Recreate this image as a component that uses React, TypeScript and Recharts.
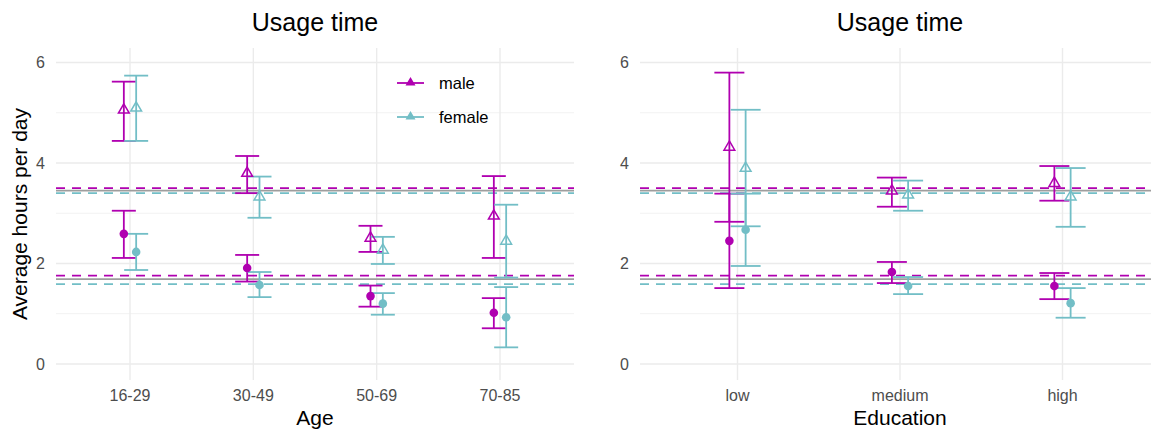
import React from "react";
import {
  ScatterChart,
  Scatter,
  XAxis,
  YAxis,
  ReferenceLine,
  ErrorBar,
} from "recharts";

const MALE = "#B000B0";
const FEMALE = "#72BEC6";
const OVERALL = "#9E9E9E";
const GRID = "#EBEBEB";
const GRID_MINOR = "#F2F2F2";
const FONT = "'Liberation Sans', Arial, sans-serif";

// each entry: [mean, lower, upper]
const ageCats = ["16-29", "30-49", "50-69", "70-85"];
const ageMaleTri = [[5.06, 4.44, 5.62], [3.8, 3.4, 4.14], [2.51, 2.23, 2.75], [2.95, 2.11, 3.74]];
const ageFemaleTri = [[5.1, 4.44, 5.74], [3.33, 2.91, 3.73], [2.27, 1.99, 2.53], [2.45, 1.72, 3.17]];
const ageMaleDot = [[2.59, 2.11, 3.05], [1.91, 1.64, 2.17], [1.35, 1.14, 1.56], [1.02, 0.71, 1.31]];
const ageFemaleDot = [[2.23, 1.87, 2.59], [1.57, 1.33, 1.83], [1.2, 0.98, 1.41], [0.93, 0.33, 1.53]];

const eduCats = ["low", "medium", "high"];
const eduMaleTri = [[4.32, 2.83, 5.8], [3.45, 3.13, 3.71], [3.6, 3.25, 3.94]];
const eduFemaleTri = [[3.9, 2.74, 5.06], [3.37, 3.05, 3.65], [3.33, 2.73, 3.9]];
const eduMaleDot = [[2.45, 1.51, 3.39], [1.83, 1.61, 2.03], [1.55, 1.29, 1.81]];
const eduFemaleDot = [[2.67, 1.95, 3.39], [1.55, 1.39, 1.73], [1.21, 0.92, 1.51]];

// horizontal reference means
const maleRefs = [3.5, 1.76];
const femaleRefs = [3.4, 1.59];
const overallRefs = [3.45, 1.69];

const yTicks = [0, 2, 4, 6];
const yMinor = [1, 3, 5];
const DODGE = 0.05;

type Row = number[];

function toPoints(vals: Row[], shift: number) {
  return vals.map((v, i) => ({ x: i + shift, y: v[0], err: [v[0] - v[1], v[2] - v[0]] }));
}

const openTriangle = (color: string) => (p: any) => {
  const { cx, cy } = p;
  if (cx == null || cy == null) return <g />;
  return (
    <path
      d={`M${cx},${cy - 6} L${cx + 5.4},${cy + 3.3} L${cx - 5.4},${cy + 3.3} Z`}
      fill="none"
      stroke={color}
      strokeWidth={1.5}
    />
  );
};

const dot = (color: string) => (p: any) => {
  const { cx, cy } = p;
  if (cx == null || cy == null) return <g />;
  return <circle cx={cx} cy={cy} r={4.3} fill={color} />;
};

interface PanelProps {
  cats: string[];
  maleTri: Row[];
  femaleTri: Row[];
  maleDot: Row[];
  femaleDot: Row[];
  capWidth: number;
  marginLeft: number;
  marginRight: number;
}

function Panel({ cats, maleTri, femaleTri, maleDot, femaleDot, capWidth, marginLeft, marginRight }: PanelProps) {
  const catIdx = cats.map((_, i) => i);
  const series = [
    { data: toPoints(maleTri, -DODGE), color: MALE, shape: openTriangle(MALE) },
    { data: toPoints(femaleTri, DODGE), color: FEMALE, shape: openTriangle(FEMALE) },
    { data: toPoints(maleDot, -DODGE), color: MALE, shape: dot(MALE) },
    { data: toPoints(femaleDot, DODGE), color: FEMALE, shape: dot(FEMALE) },
  ];
  return (
    <ScatterChart
      width={580}
      height={430}
      margin={{ top: 48, right: marginRight, bottom: 20, left: marginLeft }}
    >
      <XAxis
        type="number"
        dataKey="x"
        domain={[-0.6, cats.length - 0.4]}
        ticks={catIdx}
        tickFormatter={(i: number) => cats[Math.round(i)]}
        allowDataOverflow
        axisLine={false}
        tickLine={false}
        tickSize={0}
        tickMargin={10}
        height={30}
        tick={{ fill: "#4D4D4D", fontSize: 16, fontFamily: FONT }}
      />
      <YAxis
        type="number"
        dataKey="y"
        domain={[-0.32, 6.29]}
        ticks={yTicks}
        allowDataOverflow
        axisLine={false}
        tickLine={false}
        tickSize={0}
        tickMargin={11}
        width={30}
        tick={{ fill: "#4D4D4D", fontSize: 16, fontFamily: FONT }}
      />
      {/* grid (theme_minimal style) */}
      {yMinor.map((v) => (
        <ReferenceLine key={`m${v}`} y={v} stroke={GRID_MINOR} strokeWidth={1} />
      ))}
      {yTicks.map((v) => (
        <ReferenceLine key={`g${v}`} y={v} stroke={GRID} strokeWidth={1.4} />
      ))}
      {catIdx.map((v) => (
        <ReferenceLine key={`v${v}`} x={v} stroke={GRID} strokeWidth={1.4} />
      ))}
      {overallRefs.map((v) => (
        <ReferenceLine key={`o${v}`} y={v} stroke={OVERALL} strokeWidth={1.8} />
      ))}
      {maleRefs.map((v) => (
        <ReferenceLine key={`ma${v}`} y={v} stroke={MALE} strokeWidth={1.8} strokeDasharray="9 7" />
      ))}
      {femaleRefs.map((v) => (
        <ReferenceLine key={`fe${v}`} y={v} stroke={FEMALE} strokeWidth={1.8} strokeDasharray="9 7" />
      ))}
      {series.map((s, k) => (
        <Scatter key={k} data={s.data} shape={s.shape} isAnimationActive={false}>
          <ErrorBar
            dataKey="err"
            direction="y"
            width={capWidth}
            stroke={s.color}
            strokeWidth={1.8}
            isAnimationActive={false}
          />
        </Scatter>
      ))}
    </ScatterChart>
  );
}

export default function App() {
  return (
    <div
      style={{
        position: "absolute",
        left: 0,
        top: 0,
        width: 1151,
        height: 430,
        overflow: "hidden",
        background: "#fff",
        fontFamily: FONT,
      }}
    >
      <div style={{ position: "absolute", left: 0, top: 0 }}>
        <Panel
          cats={ageCats}
          maleTri={ageMaleTri}
          femaleTri={ageFemaleTri}
          maleDot={ageMaleDot}
          femaleDot={ageFemaleDot}
          capWidth={12}
          marginLeft={26}
          marginRight={6}
        />
      </div>
      <div style={{ position: "absolute", left: 580, top: 0 }}>
        <Panel
          cats={eduCats}
          maleTri={eduMaleTri}
          femaleTri={eduFemaleTri}
          maleDot={eduMaleDot}
          femaleDot={eduFemaleDot}
          capWidth={15}
          marginLeft={30}
          marginRight={0}
        />
      </div>
      <svg
        width={1151}
        height={430}
        style={{ position: "absolute", left: 0, top: 0, pointerEvents: "none" }}
        fontFamily={FONT}
      >
        <text x={315} y={31} textAnchor="middle" fontSize={25} fill="#000">Usage time</text>
        <text x={900} y={31} textAnchor="middle" fontSize={25} fill="#000">Usage time</text>
        <text x={315} y={425} textAnchor="middle" fontSize={21} fill="#000">Age</text>
        <text x={900} y={425} textAnchor="middle" fontSize={21} fill="#000">Education</text>
        <text
          x={0}
          y={0}
          transform="translate(27,214) rotate(-90)"
          textAnchor="middle"
          fontSize={21}
          fill="#000"
        >
          Average hours per day
        </text>
        {/* legend */}
        <line x1={397} y1={83} x2={424} y2={83} stroke={MALE} strokeWidth={1.8} />
        <path d="M410.5,77 L415.5,85.5 L405.5,85.5 Z" fill={MALE} />
        <text x={439} y={89} fontSize={16.5} fill="#000">male</text>
        <line x1={397} y1={117} x2={424} y2={117} stroke={FEMALE} strokeWidth={1.8} />
        <path d="M410.5,111 L415.5,119.5 L405.5,119.5 Z" fill={FEMALE} />
        <text x={439} y={123} fontSize={16.5} fill="#000">female</text>
      </svg>
    </div>
  );
}
